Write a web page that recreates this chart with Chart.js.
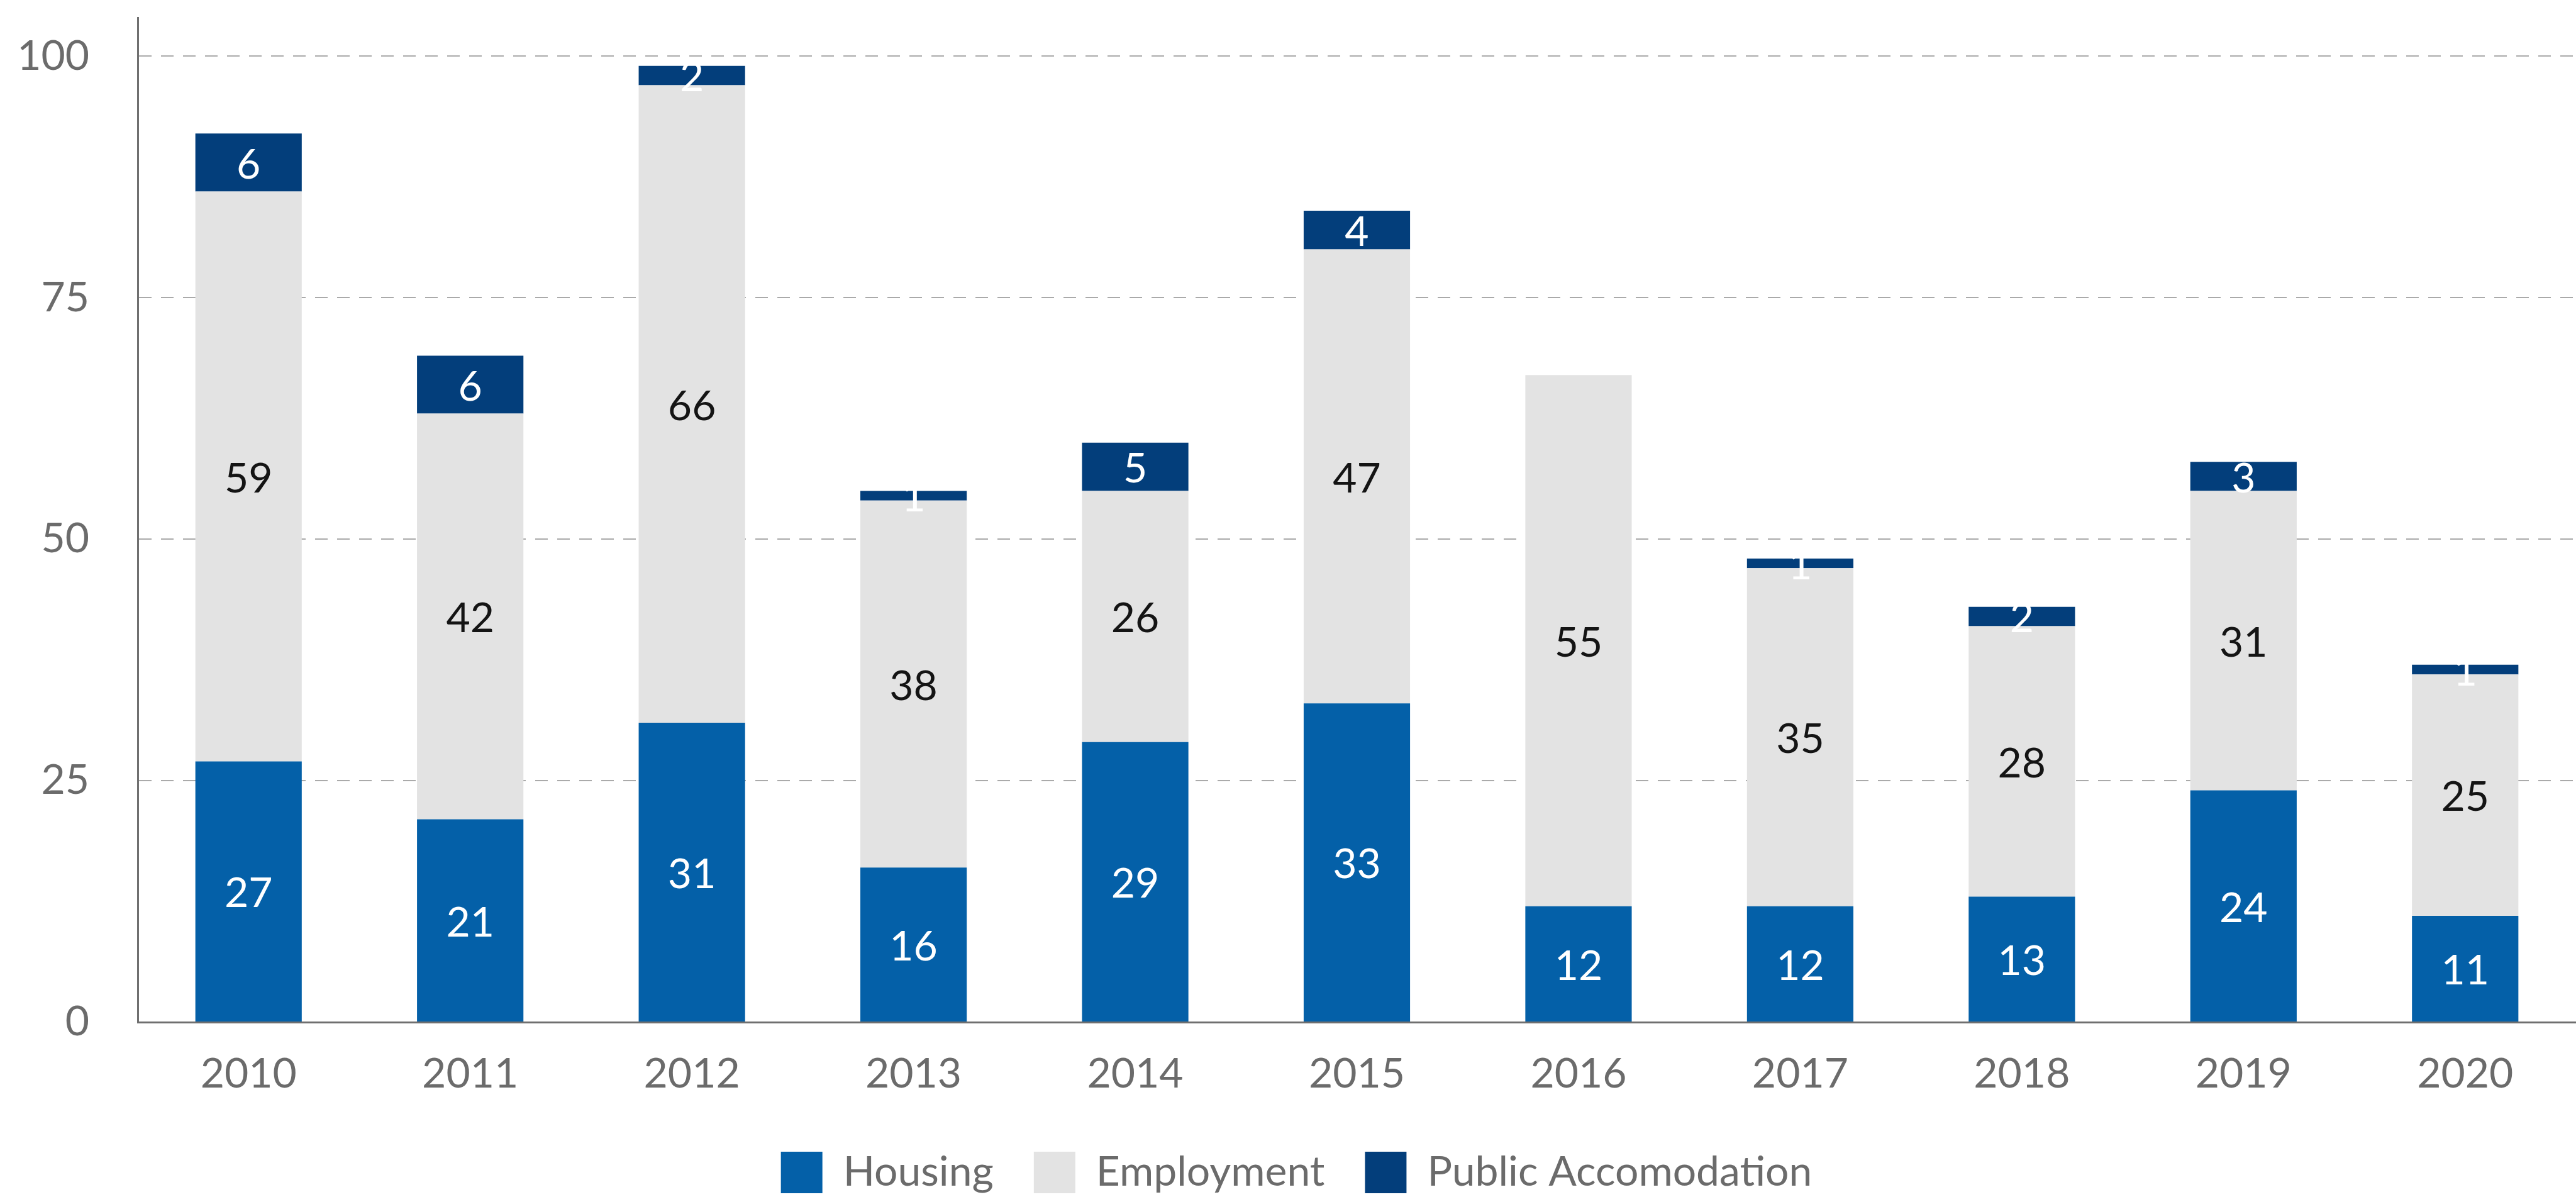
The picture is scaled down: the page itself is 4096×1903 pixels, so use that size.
<!DOCTYPE html>
<html>
<head>
<meta charset="utf-8">
<script src="https://cdn.jsdelivr.net/npm/chart.js@4"></script>
<style>
  html, body { margin: 0; padding: 0; background: #fff; }
  #wrap { width: 4096px; height: 1903px; position: relative; }
</style>
</head>
<body>
<div id="wrap"><canvas id="claims"></canvas></div>
<script>
var years = ["2010", "2011", "2012", "2013", "2014", "2015", "2016", "2017", "2018", "2019", "2020"];
var housing = [27, 21, 31, 16, 29, 33, 12, 12, 13, 24, 11];
var employment = [59, 42, 66, 38, 26, 47, 55, 35, 28, 31, 25];
var publicAcc = [6, 6, 2, 1, 5, 4, 0, 1, 2, 3, 1];
var yTicks = [0, 25, 50, 75, 100];

var labelColors = ["#ffffff", "#141414", "#ffffff"];

// writes each segment's value in the middle of the segment
var segmentLabels = {
  id: "segmentLabels",
  afterDatasetsDraw: function (chart) {
    var ctx = chart.ctx;
    ctx.save();
    ctx.font = "66px Lato";
    ctx.textAlign = "center";
    ctx.textBaseline = "middle";
    chart.data.datasets.forEach(function (ds, i) {
      var meta = chart.getDatasetMeta(i);
      ctx.fillStyle = labelColors[i];
      meta.data.forEach(function (bar, j) {
        var v = ds.data[j];
        if (!v) return;
        var p = bar.getProps(["x", "y", "base"], true);
        ctx.fillText(String(v), p.x, (p.y + p.base) / 2 + 4);
      });
    });
    ctx.restore();
  }
};

var ctx = document.getElementById("claims");

new Chart(ctx, {
  type: "bar",
  data: {
    labels: years,
    datasets: [
      { label: "Housing", data: housing, backgroundColor: "#0460A8" },
      { label: "Employment", data: employment, backgroundColor: "#E3E3E3" },
      { label: "Public Accomodation", data: publicAcc, backgroundColor: "#033E7B" }
    ]
  },
  options: {
    responsive: true,
    maintainAspectRatio: false,
    animation: false,
    barPercentage: 0.48,
    categoryPercentage: 1,
    layout: { padding: { top: 28, left: 27, right: 0, bottom: -4 } },
    plugins: {
      tooltip: { enabled: false },
      legend: {
        position: "bottom",
        labels: {
          font: { family: "Lato", size: 66 },
          color: "#6b6b6b",
          boxWidth: 66,
          boxHeight: 66,
          padding: 64
        }
      }
    },
    scales: {
      x: {
        stacked: true,
        grid: { display: false, drawTicks: false },
        border: { display: true, color: "#6f6f6f", width: 3 },
        ticks: {
          font: { family: "Lato", size: 66 },
          color: "#6b6b6b",
          padding: 43,
          maxRotation: 0
        },
        afterFit: function (s) {
          s.height = 142;
          s.paddingLeft = 0;
          s.paddingRight = 0;
        }
      },
      y: {
        stacked: true,
        min: 0,
        max: 104,
        afterBuildTicks: function (s) {
          s.ticks = yTicks.map(function (v) { return { value: v }; });
        },
        afterFit: function (s) {
          s.width = 192;
          s.paddingTop = 0;
          s.paddingBottom = 0;
        },
        grid: {
          drawTicks: false,
          lineWidth: 2,
          color: function (c) { return c.tick && c.tick.value === 0 ? "rgba(0,0,0,0)" : "#aaaaaa"; }
        },
        border: { display: true, color: "#6f6f6f", width: 3, dash: [20, 15] },
        ticks: {
          font: { family: "Lato", size: 66 },
          color: "#6b6b6b",
          padding: 77
        }
      }
    }
  },
  plugins: [segmentLabels]
});
</script>
</body>
</html>
